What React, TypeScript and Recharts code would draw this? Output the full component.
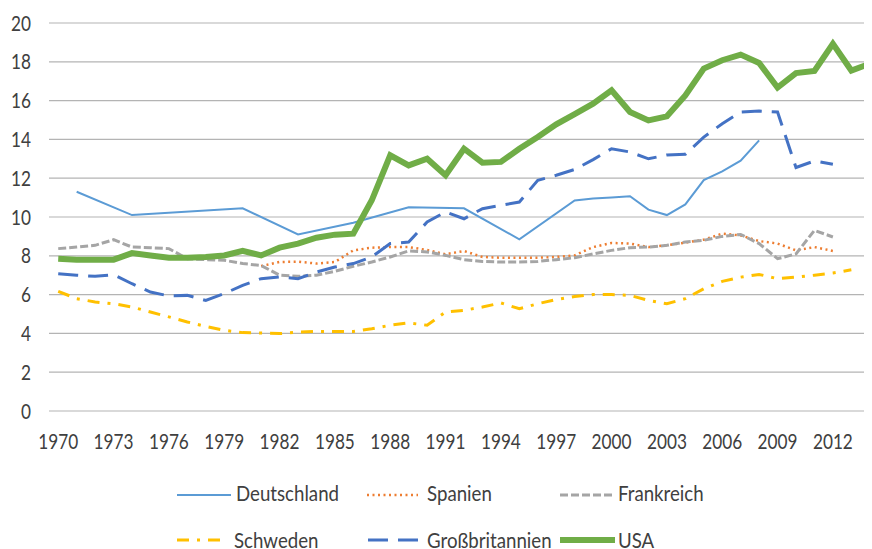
import React from 'react';
import { LineChart, Line, XAxis, YAxis, CartesianGrid } from 'recharts';

const years = [
  1970, 1971, 1972, 1973, 1974, 1975, 1976, 1977, 1978, 1979,
  1980, 1981, 1982, 1983, 1984, 1985, 1986, 1987, 1988, 1989,
  1990, 1991, 1992, 1993, 1994, 1995, 1996, 1997, 1998, 1999,
  2000, 2001, 2002, 2003, 2004, 2005, 2006, 2007, 2008, 2009,
  2010, 2011, 2012, 2013, 2014,
];

const deutschland = [
  null, 11.3, null, null, 10.1, null, null, null, null, null,
  10.45, null, null, 9.1, null, null, 9.7, null, null, 10.5,
  null, null, 10.45, null, null, 8.85, null, null, 10.85, 10.95,
  11.0, 11.07, 10.38, 10.1, 10.65, 11.9, 12.35, 12.9, 13.95, null,
  null, null, null, null, null,
];

const spanien = [
  null, null, null, null, null, null, null, null, null, null,
  null, 7.47, 7.68, 7.7, 7.6, 7.68, 8.28, 8.42, 8.45, 8.45,
  8.3, 8.08, 8.25, 7.94, 7.9, 7.9, 7.9, 7.94, 8.02, 8.45,
  8.66, 8.63, 8.45, 8.54, 8.68, 8.83, 9.14, 9.05, 8.76, 8.63,
  8.28, 8.45, 8.25, null, null,
];

const frankreich = [
  8.37, 8.45, 8.54, 8.83, 8.45, 8.42, 8.37, 7.85, 7.8, 7.77,
  7.6, 7.5, 7.0, 6.94, 7.0, 7.2, 7.46, 7.68, 7.94, 8.25,
  8.2, 8.02, 7.8, 7.71, 7.68, 7.68, 7.71, 7.8, 7.9, 8.1,
  8.28, 8.42, 8.45, 8.54, 8.71, 8.8, 9.0, 9.1, 8.63, 7.85,
  8.1, 9.31, 8.97, null, null,
];

const schweden = [
  6.17, 5.79, 5.62, 5.53, 5.36, 5.1, 4.85, 4.59, 4.36, 4.16,
  4.04, 4.02, 3.99, 4.07, 4.1, 4.1, 4.1, 4.24, 4.42, 4.54,
  4.42, 5.1, 5.19, 5.36, 5.57, 5.27, 5.53, 5.74, 5.9, 6.0,
  6.0, 5.96, 5.7, 5.53, 5.79, 6.3, 6.68, 6.9, 7.04, 6.82,
  6.9, 7.0, 7.11, 7.28, null,
];

const grossbritannien = [
  7.08, 7.0, 6.94, 7.03, 6.56, 6.13, 5.93, 5.96, 5.7, 6.05,
  6.48, 6.82, 6.91, 6.82, 7.16, 7.42, 7.6, 7.94, 8.63, 8.71,
  9.74, 10.26, 9.91, 10.43, 10.6, 10.77, 11.89, 12.15, 12.45, 12.96,
  13.52, 13.35, 13.0, 13.2, 13.23, 14.12, 14.81, 15.41, 15.46, 15.41,
  12.55, 12.89, 12.72, null, null,
];

const usa = [
  7.85, 7.8, 7.8, 7.8, 8.14, 8.02, 7.9, 7.9, 7.94, 8.02,
  8.25, 8.02, 8.42, 8.63, 8.93, 9.09, 9.14, 10.86, 13.18, 12.66,
  13.0, 12.15, 13.52, 12.8, 12.84, 13.52, 14.12, 14.78, 15.3, 15.84,
  16.53, 15.41, 14.98, 15.19, 16.27, 17.65, 18.08, 18.37, 17.94, 16.67,
  17.42, 17.53, 18.93, 17.55, 17.9,
];

const xTicks = [1970, 1973, 1976, 1979, 1982, 1985, 1988, 1991, 1994, 1997, 2000, 2003, 2006, 2009, 2012];
const yTicks = [0, 2, 4, 6, 8, 10, 12, 14, 16, 18, 20];

const data = years.map((year, i) => ({
  year,
  Deutschland: deutschland[i],
  Spanien: spanien[i],
  Frankreich: frankreich[i],
  Schweden: schweden[i],
  Großbritannien: grossbritannien[i],
  USA: usa[i],
}));

const FONT = 'Lato, sans-serif';
const FONT_SIZE = 21;
const SX_TICK = 0.82; // text in the original is squeezed horizontally
const SX_LEGEND = 0.89;
const TEXT = '#404040';

// line styles, also used by the legend
const series = [
  { key: 'Deutschland', color: '#5B9BD5', width: 2, dash: undefined, connect: true },
  { key: 'Spanien', color: '#ED7D31', width: 2.5, dash: '2 3.5', connect: false },
  { key: 'Frankreich', color: '#A5A5A5', width: 3, dash: '8 3', connect: false },
  { key: 'Schweden', color: '#FFC000', width: 3, dash: '12 8 3 8', connect: false },
  { key: 'Großbritannien', color: '#4472C4', width: 3, dash: '20 10', connect: false },
  { key: 'USA', color: '#70AD47', width: 6, dash: undefined, connect: false },
];

// legend placement: name, sample from, sample to, text x, row baseline, sample y
const legendPos: [string, number, number, number, number, number][] = [
  ['Deutschland', 177, 231, 236, 501, 495],
  ['Spanien', 367, 418, 427, 501, 495],
  ['Frankreich', 560, 613, 618, 501, 495],
  ['Schweden', 177, 222, 234, 548, 540],
  ['Großbritannien', 368, 422, 427, 548, 540],
  ['USA', 560, 615, 618, 548, 540],
];

const squeezed = (x: number, y: number, sx: number) => `translate(${x},${y}) scale(${sx},1)`;

const XTick = (props: any) => {
  const { x, y, payload } = props;
  return (
    <text
      transform={squeezed(x, y, SX_TICK)}
      textAnchor="middle"
      dy="0.72em"
      fill={TEXT}
      fontSize={FONT_SIZE}
      fontFamily={FONT}
    >
      {payload.value}
    </text>
  );
};

const YTick = (props: any) => {
  const { x, y, payload } = props;
  return (
    <text
      transform={squeezed(x, y, SX_TICK)}
      textAnchor="end"
      dy="0.36em"
      fill={TEXT}
      fontSize={FONT_SIZE}
      fontFamily={FONT}
    >
      {payload.value}
    </text>
  );
};

const ChartLegend = () => (
  <svg width={872} height={549} style={{ position: 'absolute', left: 0, top: 0, pointerEvents: 'none' }}>
    {legendPos.map(([name, x1, x2, tx, base, ly]) => {
      const s = series.find((d) => d.key === name)!;
      return (
        <g key={name}>
          <line
            x1={x1}
            y1={ly}
            x2={x2}
            y2={ly}
            stroke={s.color}
            strokeWidth={s.width}
            strokeDasharray={s.dash}
          />
          <text transform={squeezed(tx, base, SX_LEGEND)} fill={TEXT} fontSize={FONT_SIZE} fontFamily={FONT}>
            {name}
          </text>
        </g>
      );
    })}
  </svg>
);

const App: React.FC = () => {
  return (
    <div
      style={{
        position: 'relative',
        marginLeft: -8,
        marginTop: -8,
        width: 872,
        height: 549,
        overflow: 'hidden',
        background: '#fff',
      }}
    >
      <LineChart
        width={880}
        height={549}
        data={data}
        margin={{ top: 23, right: 1, bottom: 0, left: 0 }}
      >
        <CartesianGrid vertical={false} stroke="#b4b4b4" strokeWidth={1.2} />
        <XAxis
          dataKey="year"
          type="number"
          domain={[1969.5, 2014.5]}
          ticks={xTicks}
          interval={0}
          axisLine={false}
          tickLine={false}
          tickSize={0}
          tickMargin={23}
          height={138}
          tick={XTick}
        />
        <YAxis
          domain={[0, 20]}
          ticks={yTicks}
          interval={0}
          axisLine={false}
          tickLine={false}
          tickSize={0}
          tickMargin={18}
          width={49}
          tick={YTick}
        />
        {series.map((s) => (
          <Line
            key={s.key}
            type="linear"
            dataKey={s.key}
            stroke={s.color}
            strokeWidth={s.width}
            strokeDasharray={s.dash}
            dot={false}
            activeDot={false}
            connectNulls={s.connect}
            isAnimationActive={false}
          />
        ))}
      </LineChart>
      <ChartLegend />
    </div>
  );
};

export default App;
